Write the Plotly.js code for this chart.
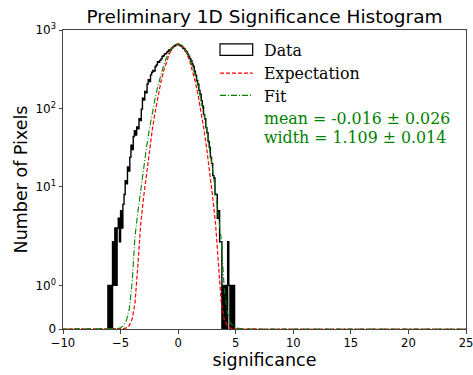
<!DOCTYPE html>
<html>
<head>
<meta charset="utf-8">
<script src="https://cdn.plot.ly/plotly-3.0.1.min.js"></script>
<style>html,body{margin:0;padding:0;background:#fff;}#chart{width:473px;height:375px;}</style>
</head>
<body>
<div id="chart"></div>
<script>
// ---- Data ----
const binCenters = [
 -6.15,-6.05,-5.95,-5.85,-5.75,-5.65,-5.55,-5.45,-5.35,-5.25,-5.15,-5.05,
 -4.95,-4.85,-4.75,-4.65,-4.55,-4.45,-4.35,-4.25,-4.15,-4.05,
 -3.95,-3.85,-3.75,-3.65,-3.55,-3.45,-3.35,-3.25,-3.15,-3.05,
 -2.95,-2.85,-2.75,-2.65,-2.55,-2.45,-2.35,-2.25,-2.15,-2.05,
 -1.95,-1.85,-1.75,-1.65,-1.55,-1.45,-1.35,-1.25,-1.15,-1.05,
 -0.95,-0.85,-0.75,-0.65,-0.55,-0.45,-0.35,-0.25,-0.15,-0.05,
 0.05,0.15,0.25,0.35,0.45,0.55,0.65,0.75,0.85,0.95,
 1.05,1.15,1.25,1.35,1.45,1.55,1.65,1.75,1.85,1.95,
 2.05,2.15,2.25,2.35,2.45,2.55,2.65,2.75,2.85,2.95,
 3.05,3.15,3.25,3.35,3.45,3.55,3.65,3.75,3.85,3.95,
 4.05,4.15,4.25,4.35,4.45,4.55,4.65,4.75,4.85,4.95
];
const dataCounts = [
 0,1,0,1,0,2,1,3,1,3,4,2,
 5,3,6,8,12,11,18,16,24,34,
 30,44,52,46,58,55,74,70,98,135,
 128,165,158,205,232,220,268,290,306,300,
 342,358,395,388,410,428,460,470,495,500,
 522,535,560,556,585,598,620,630,652,658,
 648,645,626,615,586,578,545,530,495,465,
 430,405,368,342,298,265,228,204,170,152,
 126,108,84,74,57,49,38,32,24,20,
 14,13,8,8,4,5,2,2,0,1,
 0,1,0,2,1,0,1,0,1,0
];
const curveX = [
 -10,-8,-7,-6.5,
 -6,-5.75,-5.5,-5.25,-5,-4.75,-4.5,-4.25,-4,-3.75,-3.5,-3.25,-3,-2.75,-2.5,-2.25,-2,-1.75,-1.5,-1.25,-1,-0.75,-0.5,-0.25,
 0,0.25,0.5,0.75,1,1.25,1.5,1.75,2,2.25,2.5,2.75,3,3.25,3.5,3.75,4,4.25,4.5,4.75,5,5.25,5.5,5.75,6,
 6.5,7,8,10,15,20,25
];
const expectation = [
 0,0,0,0,
 0.00001,0.00004,0.00018,0.00069,0.0025,0.0084,0.0266,0.0795,0.223,0.588,1.455,3.38,7.39,15.16,29.2,52.9,90.0,143.8,215.9,304.5,403.3,502.0,586.9,644.5,
 665,644.5,586.9,502.0,403.3,304.5,215.9,143.8,90.0,52.9,29.2,15.16,7.39,3.38,1.455,0.588,0.223,0.0795,0.0266,0.0084,0.0025,0.00069,0.00018,0.00004,0.00001,
 0,0,0,0,0,0,0
];
const fit = [
 0,0,0,0,
 0.0003,0.00104,0.0032,0.0097,0.0273,0.0735,0.188,0.454,1.048,2.30,4.78,9.47,17.81,31.85,54.1,87.4,134.2,195.9,271.7,358.1,448.6,534.2,604.6,650.4,
 665,646.1,596.8,523.9,437.1,346.6,261.3,187.2,127.4,82.5,50.7,29.65,16.47,8.70,4.37,2.08,0.944,0.407,0.167,0.065,0.024,0.0085,0.0028,0.0009,0.0003,
 0,0,0,0,0,0,0
];
const yTickValues = [0, 1, 10, 100, 1000];
const yTickLabels = ['0', '10<sup>0</sup>', '10<sup>1</sup>', '10<sup>2</sup>', '10<sup>3</sup>'];
const fitText = ['mean = -0.016 \u00b1 0.026', 'width = 1.109 \u00b1 0.014'];

// ---- symlog scale (matplotlib: base 10, linthresh 2, linscale 1) ----
const LT = 2, LS = 1 / (1 - 1 / 10);
function symlog(v) {
  const a = Math.abs(v);
  if (a <= LT) return v * LS;
  return Math.sign(v) * LT * (LS + Math.log10(a / LT));
}

const serif = 'DejaVu Serif, serif';
const sans = 'DejaVu Sans, sans-serif';

const traces = [
  {x: binCenters, y: dataCounts.map(symlog), type: 'scatter', mode: 'lines',
   line: {color: '#000', width: 1.4, shape: 'hvh'}, name: 'Data', hoverinfo: 'skip'},
  {x: curveX, y: expectation.map(symlog), type: 'scatter', mode: 'lines',
   line: {color: '#ff0000', width: 1.2, dash: '4px,2px'}, name: 'Expectation'},
  {x: curveX, y: fit.map(symlog), type: 'scatter', mode: 'lines',
   line: {color: '#008000', width: 1.1, dash: '6px,2px,1px,2px'}, name: 'Fit'}
];

const lx0 = 0.3896, lx1 = 0.4707, tx = 0.4935;
const legFont = 15.8;
const layout = {
  width: 473, height: 375,
  margin: {l: 63, r: 7, t: 30, b: 46, pad: 0},
  paper_bgcolor: '#fff', plot_bgcolor: '#fff',
  showlegend: false,
  title: {text: 'Preliminary 1D Significance Histogram', font: {family: sans, size: 18.5, color: '#000'},
          x: 0.5, xref: 'paper', xanchor: 'center', y: 1 - 17/375, yref: 'container', yanchor: 'middle'},
  xaxis: {range: [-10, 25], dtick: 5, tick0: -10, showgrid: false, zeroline: false,
          showline: true, linecolor: '#444', linewidth: 1, mirror: true,
          ticks: 'outside', ticklen: 3.5, tickcolor: '#444', tickwidth: 1,
          ticklabeloverflow: 'allow',
          tickfont: {family: sans, size: 11.6, color: '#000'},
          title: {text: 'significance', font: {family: sans, size: 17.5, color: '#000'}, standoff: 4}},
  yaxis: {range: [0, symlog(1000)], tickmode: 'array', tickvals: yTickValues.map(symlog), ticktext: yTickLabels,
          showgrid: false, zeroline: false,
          showline: true, linecolor: '#444', linewidth: 1, mirror: true,
          ticks: 'outside', ticklen: 3.5, tickcolor: '#444', tickwidth: 1,
          tickfont: {family: sans, size: 12, color: '#000'},
          title: {text: 'Number of Pixels', font: {family: sans, size: 17.5, color: '#000'}, standoff: 3}},
  shapes: [
    {type: 'rect', xref: 'paper', yref: 'paper', x0: lx0, x1: lx1, y0: 0.9149, y1: 0.9539,
     line: {color: '#000', width: 1.2}, fillcolor: 'rgba(0,0,0,0)'},
    {type: 'line', xref: 'paper', yref: 'paper', x0: lx0, x1: lx1, y0: 0.8558, y1: 0.8558,
     line: {color: '#ff0000', width: 1.2, dash: '4px,2px'}},
    {type: 'line', xref: 'paper', yref: 'paper', x0: lx0, x1: lx1, y0: 0.7813, y1: 0.7813,
     line: {color: '#008000', width: 1.1, dash: '6px,2px,1px,2px'}}
  ],
  annotations: [
    {text: 'Data', xref: 'paper', yref: 'paper', x: tx, y: 0.9316, xanchor: 'left', yanchor: 'middle', showarrow: false,
     font: {family: serif, size: legFont, color: '#000'}},
    {text: 'Expectation', xref: 'paper', yref: 'paper', x: tx, y: 0.8548, xanchor: 'left', yanchor: 'middle', showarrow: false,
     font: {family: serif, size: legFont, color: '#000'}},
    {text: 'Fit', xref: 'paper', yref: 'paper', x: tx, y: 0.778, xanchor: 'left', yanchor: 'middle', showarrow: false,
     font: {family: serif, size: legFont, color: '#000'}},
    {text: fitText[0], xref: 'paper', yref: 'paper', x: tx, y: 0.7035, xanchor: 'left', yanchor: 'middle', showarrow: false,
     font: {family: serif, size: legFont, color: '#008000'}},
    {text: fitText[1], xref: 'paper', yref: 'paper', x: tx, y: 0.6421, xanchor: 'left', yanchor: 'middle', showarrow: false,
     font: {family: serif, size: legFont, color: '#008000'}}
  ]
};

Plotly.newPlot('chart', traces, layout, {staticPlot: true, displayModeBar: false});
</script>
</body>
</html>
